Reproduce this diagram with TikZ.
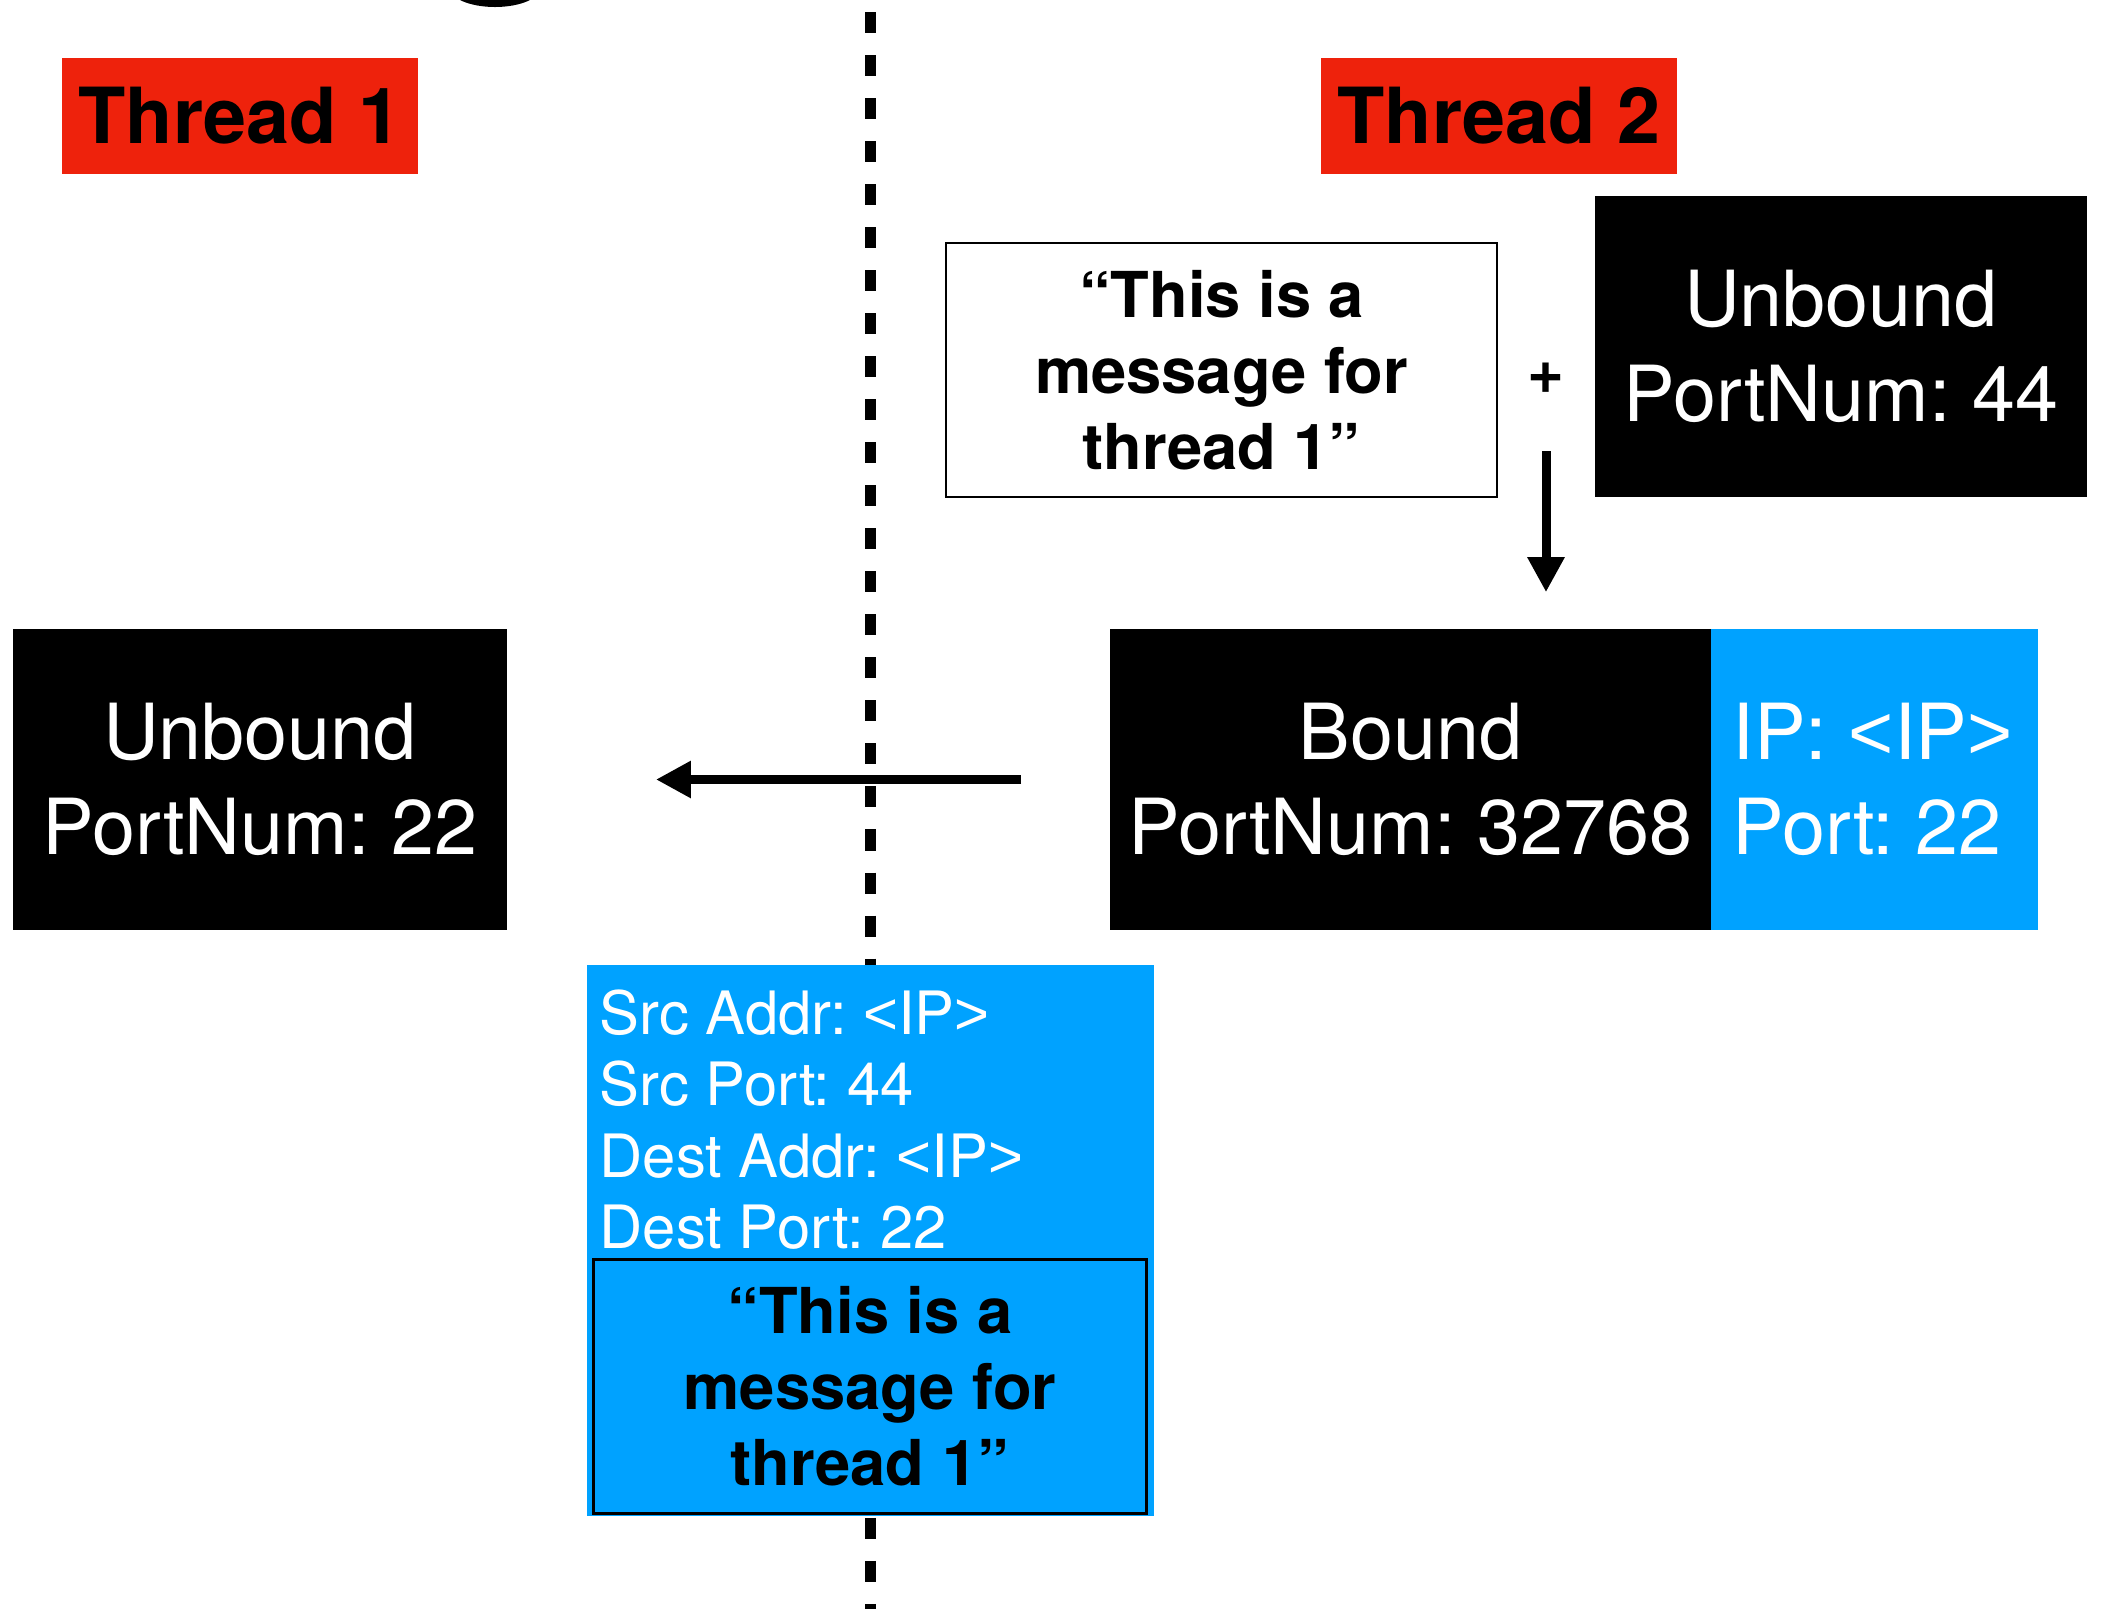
\documentclass[tikz,border=0pt]{standalone}
\usepackage{fontspec}
\setmainfont{TeX Gyre Heros}
\newfontfamily\SignFont{Liberation Sans}
\usetikzlibrary{calc,arrows.meta}
\definecolor{threadRed}{RGB}{238,34,12}
\definecolor{sockBlue}{RGB}{0,162,255}
\newcommand{\LabelFont}{\fontsize{22}{27}\selectfont}
\newcommand{\MsgFont}{\fontsize{18}{21.6}\selectfont\bfseries}
\newcommand{\HdrFont}{\fontsize{17}{20.3}\selectfont}
\newcommand{\IPtag}{{\SignFont<}IP{\SignFont>}}
\frenchspacing

\begin{document}
\begin{tikzpicture}[x=0.01cm,y=-0.01cm,
  box/.style={inner sep=0pt,align=center},
  sock/.style={box,fill=black,text=white,font=\LabelFont,minimum height=3.01cm},
  tag/.style={box,fill=threadRed,font=\LabelFont\bfseries,minimum width=3.56cm,minimum height=1.16cm},
  flow/.style={line width=0.09cm,-{Triangle[length=0.35cm,width=0.35cm]}}]
\useasboundingbox (0,0) rectangle (2102,1609);

% bit of the title that runs off the top
\begin{scope}
\clip (0,0) rectangle (2102,1609);
\fill (495,-13) ellipse [x radius=0.46cm, y radius=0.20cm];
\end{scope}

% thread divider
\coordinate (divtop) at (870,12);
\coordinate (divbot) at (870,1609);
\draw[line width=0.11cm,dash pattern=on 0.21cm off 0.22cm] (divtop) -- (divbot);

\node[tag] (t1) at (240,116) {Thread 1};
\node[tag] (t2) at (1499,116) {Thread 2};

% thread 2: message + socket
\node[box,draw=black,line width=0.02cm,fill=white,font=\MsgFont,minimum width=5.51cm,minimum height=2.54cm] (msg) at (1221.5,370) {“This is a\\message for\\thread 1”};
\node[font=\MsgFont,inner sep=0pt] (plus) at (1546,378) {+};
\node[sock,minimum width=4.92cm] (port44) at (1841,346.5) {Unbound\\PortNum: 44};

% bound socket, address part drawn first so the black half overlaps it
\node[sock,fill=sockBlue,align=left,minimum width=3.31cm] (boundip) at (1872.5,779.5) {IP: \IPtag\\Port: 22};
\node[sock,minimum width=6.01cm] (bound) at (1410.5,779.5) {Bound\\PortNum: 32768};

% thread 1 socket
\node[sock,minimum width=4.94cm] (port22) at (260,779.5) {Unbound\\PortNum: 22};

% packet on the wire
\node[box,fill=sockBlue,minimum width=5.67cm,minimum height=5.51cm] (pkt) at (870.5,1240.5) {};
\node[box,align=left,text=white,font=\HdrFont,anchor=north west] (hdr) at (599,989) {Src Addr: \IPtag\\Src Port: 44\\Dest Addr: \IPtag\\Dest Port: 22};
\node[box,draw=black,line width=0.03cm,fill=sockBlue,font=\MsgFont,minimum width=5.52cm,minimum height=2.53cm] (pktmsg) at (870,1386.5) {“This is a\\message for\\thread 1”};

\draw[flow,shorten <=0.73cm,shorten >=0.36cm] (plus.center) -- (plus.center |- bound.north);
\draw[flow,shorten <=0.88cm,shorten >=1.48cm] (bound.west) -- (port22.east);
\end{tikzpicture}
\end{document}
